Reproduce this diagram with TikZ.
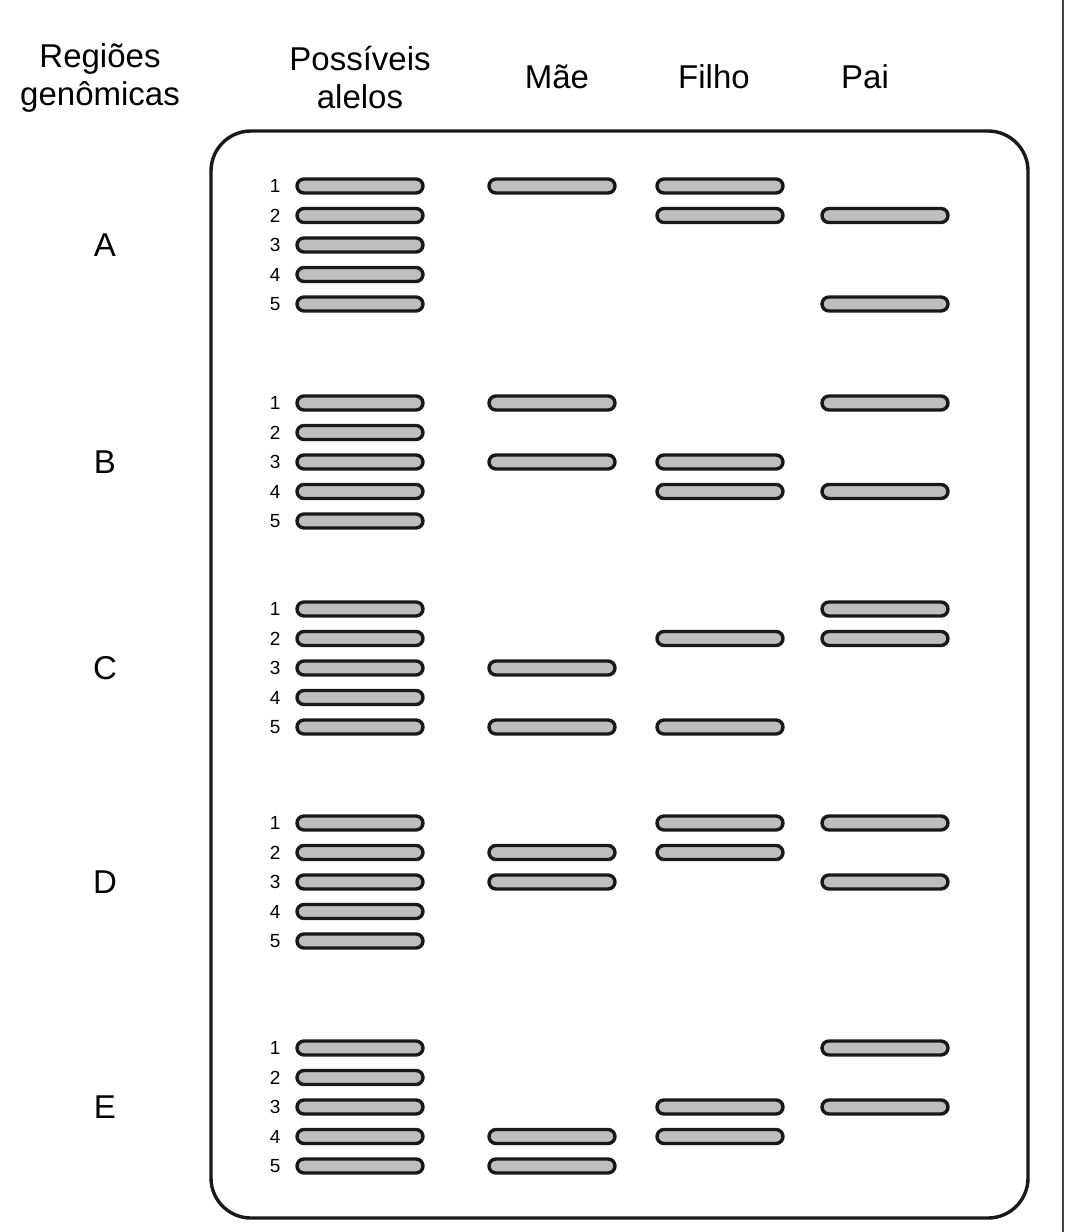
\documentclass[tikz,border=0pt]{standalone}
\usepackage{fontspec}
\setmainfont{Liberation Sans}
\definecolor{bandgray}{RGB}{190,190,190}
\begin{document}
\begin{tikzpicture}[x=1pt,y=-1pt,
  band/.style={draw=black!90,fill=bandgray,line width=3.4pt,rounded corners=7pt,minimum width=126pt,minimum height=14pt,inner sep=0pt},
  head/.style={font=\fontsize{33}{38}\selectfont,align=center},
  letter/.style={font=\fontsize{33}{38}\selectfont},
  num/.style={font=\fontsize{19}{22}\selectfont}]
\useasboundingbox (0,0) rectangle (1067,1232);
\draw[line width=1.5pt,black!75] (1063,0) -- (1063,1232);
\draw[line width=3.4pt,black!90,rounded corners=40pt] (211,131) rectangle (1028,1218);
\node[head] (h1) at (100,78) {Regiões\\genômicas};
\node[head] (h2) at (360,78) {Possíveis\\alelos};
\node[head] (h3) at (557,77) {Mãe};
\node[head] (h4) at (714,77) {Filho};
\node[head] (h5) at (865,77) {Pai};
\foreach \r/\b/\m/\f/\p in {A/186/{1}/{1,2}/{2,5}, B/403/{1,3}/{3,4}/{1,4}, C/609/{3,5}/{2,5}/{1,2}, D/823/{2,3}/{1,2}/{1,3}, E/1048/{4,5}/{3,4}/{1,3}}{
  \node[letter] (L\r) at (105,\b+59) {\r};
  \foreach \i in {1,...,5}{
    \node[band] (a\r\i) at (360,\b+29.5*\i-29.5) {};
    \node[num,anchor=east] (n\r\i) at (284,\b+29.5*\i-29.5) {\i};
  }
  \foreach \i in \m {\node[band] (m\r\i) at (552,\b+29.5*\i-29.5) {};}
  \foreach \i in \f {\node[band] (f\r\i) at (720,\b+29.5*\i-29.5) {};}
  \foreach \i in \p {\node[band] (p\r\i) at (885,\b+29.5*\i-29.5) {};}
}
\end{tikzpicture}
\end{document}
